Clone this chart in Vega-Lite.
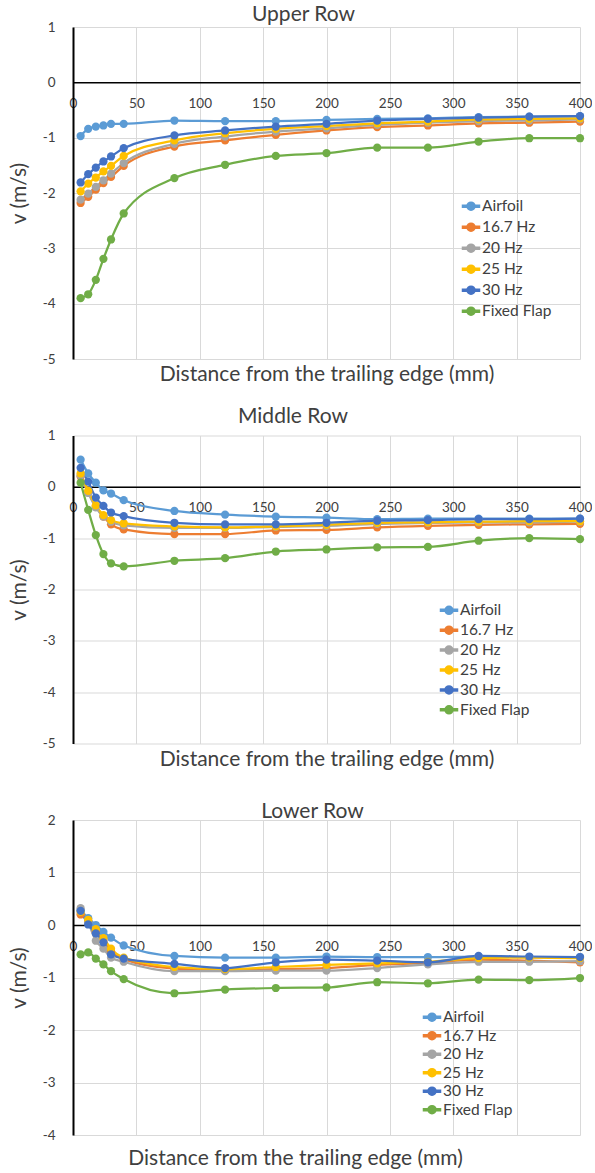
{
"$schema":"https://vega.github.io/schema/vega-lite/v6.json",
"background":"white",
"padding":{"left":8,"top":4,"right":0,"bottom":5},
"bounds":"flush",
"spacing":76.5,
"config":{
 "font":"Lato",
 "view":{"stroke":null},
 "axis":{"gridColor":"#D9D9D9","gridWidth":1,"ticks":false,"labelColor":"#404040","titleColor":"#404040","labelFontSize":13.5,"titleFontSize":21,"titleFontWeight":"normal","domainColor":"#000000","labelFont":"Lato","titleFont":"Lato","labelExpr":"'' + datum.value"},
 "legend":{"labelColor":"#404040","labelFontSize":15.5,"labelFont":"Lato"},
 "title":{"fontSize":21,"fontWeight":"normal","color":"#404040","font":"Lato"}
},
"resolve":{"scale":{"color":"independent","x":"independent","y":"independent"},"legend":{"color":"independent"}},
"datasets":{"d":[
{"row":"Upper","series":"Airfoil","x":6,"v":-0.97},{"row":"Upper","series":"Airfoil","x":12,"v":-0.84},{"row":"Upper","series":"Airfoil","x":18,"v":-0.80},{"row":"Upper","series":"Airfoil","x":24,"v":-0.78},{"row":"Upper","series":"Airfoil","x":30,"v":-0.75},{"row":"Upper","series":"Airfoil","x":40,"v":-0.75},{"row":"Upper","series":"Airfoil","x":80,"v":-0.69},{"row":"Upper","series":"Airfoil","x":120,"v":-0.70},{"row":"Upper","series":"Airfoil","x":160,"v":-0.70},{"row":"Upper","series":"Airfoil","x":200,"v":-0.68},{"row":"Upper","series":"Airfoil","x":240,"v":-0.66},{"row":"Upper","series":"Airfoil","x":280,"v":-0.65},{"row":"Upper","series":"Airfoil","x":320,"v":-0.63},{"row":"Upper","series":"Airfoil","x":360,"v":-0.62},{"row":"Upper","series":"Airfoil","x":400,"v":-0.61},
{"row":"Upper","series":"16.7 Hz","x":6,"v":-2.18},{"row":"Upper","series":"16.7 Hz","x":12,"v":-2.07},{"row":"Upper","series":"16.7 Hz","x":18,"v":-1.94},{"row":"Upper","series":"16.7 Hz","x":24,"v":-1.82},{"row":"Upper","series":"16.7 Hz","x":30,"v":-1.71},{"row":"Upper","series":"16.7 Hz","x":40,"v":-1.51},{"row":"Upper","series":"16.7 Hz","x":80,"v":-1.16},{"row":"Upper","series":"16.7 Hz","x":120,"v":-1.05},{"row":"Upper","series":"16.7 Hz","x":160,"v":-0.95},{"row":"Upper","series":"16.7 Hz","x":200,"v":-0.87},{"row":"Upper","series":"16.7 Hz","x":240,"v":-0.81},{"row":"Upper","series":"16.7 Hz","x":280,"v":-0.78},{"row":"Upper","series":"16.7 Hz","x":320,"v":-0.74},{"row":"Upper","series":"16.7 Hz","x":360,"v":-0.73},{"row":"Upper","series":"16.7 Hz","x":400,"v":-0.71},
{"row":"Upper","series":"20 Hz","x":6,"v":-2.12},{"row":"Upper","series":"20 Hz","x":12,"v":-2.01},{"row":"Upper","series":"20 Hz","x":18,"v":-1.89},{"row":"Upper","series":"20 Hz","x":24,"v":-1.77},{"row":"Upper","series":"20 Hz","x":30,"v":-1.65},{"row":"Upper","series":"20 Hz","x":40,"v":-1.46},{"row":"Upper","series":"20 Hz","x":80,"v":-1.11},{"row":"Upper","series":"20 Hz","x":120,"v":-0.98},{"row":"Upper","series":"20 Hz","x":160,"v":-0.89},{"row":"Upper","series":"20 Hz","x":200,"v":-0.83},{"row":"Upper","series":"20 Hz","x":240,"v":-0.77},{"row":"Upper","series":"20 Hz","x":280,"v":-0.73},{"row":"Upper","series":"20 Hz","x":320,"v":-0.70},{"row":"Upper","series":"20 Hz","x":360,"v":-0.69},{"row":"Upper","series":"20 Hz","x":400,"v":-0.67},
{"row":"Upper","series":"25 Hz","x":6,"v":-1.97},{"row":"Upper","series":"25 Hz","x":12,"v":-1.83},{"row":"Upper","series":"25 Hz","x":18,"v":-1.72},{"row":"Upper","series":"25 Hz","x":24,"v":-1.61},{"row":"Upper","series":"25 Hz","x":30,"v":-1.51},{"row":"Upper","series":"25 Hz","x":40,"v":-1.33},{"row":"Upper","series":"25 Hz","x":80,"v":-1.05},{"row":"Upper","series":"25 Hz","x":120,"v":-0.92},{"row":"Upper","series":"25 Hz","x":160,"v":-0.84},{"row":"Upper","series":"25 Hz","x":200,"v":-0.79},{"row":"Upper","series":"25 Hz","x":240,"v":-0.74},{"row":"Upper","series":"25 Hz","x":280,"v":-0.71},{"row":"Upper","series":"25 Hz","x":320,"v":-0.67},{"row":"Upper","series":"25 Hz","x":360,"v":-0.66},{"row":"Upper","series":"25 Hz","x":400,"v":-0.65},
{"row":"Upper","series":"30 Hz","x":6,"v":-1.81},{"row":"Upper","series":"30 Hz","x":12,"v":-1.66},{"row":"Upper","series":"30 Hz","x":18,"v":-1.54},{"row":"Upper","series":"30 Hz","x":24,"v":-1.43},{"row":"Upper","series":"30 Hz","x":30,"v":-1.34},{"row":"Upper","series":"30 Hz","x":40,"v":-1.19},{"row":"Upper","series":"30 Hz","x":80,"v":-0.96},{"row":"Upper","series":"30 Hz","x":120,"v":-0.87},{"row":"Upper","series":"30 Hz","x":160,"v":-0.80},{"row":"Upper","series":"30 Hz","x":200,"v":-0.75},{"row":"Upper","series":"30 Hz","x":240,"v":-0.69},{"row":"Upper","series":"30 Hz","x":280,"v":-0.66},{"row":"Upper","series":"30 Hz","x":320,"v":-0.64},{"row":"Upper","series":"30 Hz","x":360,"v":-0.62},{"row":"Upper","series":"30 Hz","x":400,"v":-0.61},
{"row":"Upper","series":"Fixed Flap","x":6,"v":-3.90},{"row":"Upper","series":"Fixed Flap","x":12,"v":-3.83},{"row":"Upper","series":"Fixed Flap","x":18,"v":-3.57},{"row":"Upper","series":"Fixed Flap","x":24,"v":-3.19},{"row":"Upper","series":"Fixed Flap","x":30,"v":-2.84},{"row":"Upper","series":"Fixed Flap","x":40,"v":-2.37},{"row":"Upper","series":"Fixed Flap","x":80,"v":-1.73},{"row":"Upper","series":"Fixed Flap","x":120,"v":-1.49},{"row":"Upper","series":"Fixed Flap","x":160,"v":-1.33},{"row":"Upper","series":"Fixed Flap","x":200,"v":-1.28},{"row":"Upper","series":"Fixed Flap","x":240,"v":-1.18},{"row":"Upper","series":"Fixed Flap","x":280,"v":-1.18},{"row":"Upper","series":"Fixed Flap","x":320,"v":-1.07},{"row":"Upper","series":"Fixed Flap","x":360,"v":-1.01},{"row":"Upper","series":"Fixed Flap","x":400,"v":-1.01},
{"row":"Middle","series":"Airfoil","x":6,"v":0.53},{"row":"Middle","series":"Airfoil","x":12,"v":0.26},{"row":"Middle","series":"Airfoil","x":18,"v":0.08},{"row":"Middle","series":"Airfoil","x":24,"v":-0.07},{"row":"Middle","series":"Airfoil","x":30,"v":-0.13},{"row":"Middle","series":"Airfoil","x":40,"v":-0.26},{"row":"Middle","series":"Airfoil","x":80,"v":-0.47},{"row":"Middle","series":"Airfoil","x":120,"v":-0.54},{"row":"Middle","series":"Airfoil","x":160,"v":-0.58},{"row":"Middle","series":"Airfoil","x":200,"v":-0.60},{"row":"Middle","series":"Airfoil","x":240,"v":-0.63},{"row":"Middle","series":"Airfoil","x":280,"v":-0.62},{"row":"Middle","series":"Airfoil","x":320,"v":-0.62},{"row":"Middle","series":"Airfoil","x":360,"v":-0.62},{"row":"Middle","series":"Airfoil","x":400,"v":-0.62},
{"row":"Middle","series":"16.7 Hz","x":6,"v":0.20},{"row":"Middle","series":"16.7 Hz","x":12,"v":-0.10},{"row":"Middle","series":"16.7 Hz","x":18,"v":-0.38},{"row":"Middle","series":"16.7 Hz","x":24,"v":-0.58},{"row":"Middle","series":"16.7 Hz","x":30,"v":-0.73},{"row":"Middle","series":"16.7 Hz","x":40,"v":-0.83},{"row":"Middle","series":"16.7 Hz","x":80,"v":-0.92},{"row":"Middle","series":"16.7 Hz","x":120,"v":-0.92},{"row":"Middle","series":"16.7 Hz","x":160,"v":-0.85},{"row":"Middle","series":"16.7 Hz","x":200,"v":-0.84},{"row":"Middle","series":"16.7 Hz","x":240,"v":-0.79},{"row":"Middle","series":"16.7 Hz","x":280,"v":-0.76},{"row":"Middle","series":"16.7 Hz","x":320,"v":-0.74},{"row":"Middle","series":"16.7 Hz","x":360,"v":-0.73},{"row":"Middle","series":"16.7 Hz","x":400,"v":-0.72},
{"row":"Middle","series":"20 Hz","x":6,"v":0.22},{"row":"Middle","series":"20 Hz","x":12,"v":-0.12},{"row":"Middle","series":"20 Hz","x":18,"v":-0.40},{"row":"Middle","series":"20 Hz","x":24,"v":-0.58},{"row":"Middle","series":"20 Hz","x":30,"v":-0.68},{"row":"Middle","series":"20 Hz","x":40,"v":-0.75},{"row":"Middle","series":"20 Hz","x":80,"v":-0.80},{"row":"Middle","series":"20 Hz","x":120,"v":-0.80},{"row":"Middle","series":"20 Hz","x":160,"v":-0.78},{"row":"Middle","series":"20 Hz","x":200,"v":-0.76},{"row":"Middle","series":"20 Hz","x":240,"v":-0.72},{"row":"Middle","series":"20 Hz","x":280,"v":-0.70},{"row":"Middle","series":"20 Hz","x":320,"v":-0.69},{"row":"Middle","series":"20 Hz","x":360,"v":-0.69},{"row":"Middle","series":"20 Hz","x":400,"v":-0.68},
{"row":"Middle","series":"25 Hz","x":6,"v":0.26},{"row":"Middle","series":"25 Hz","x":12,"v":-0.08},{"row":"Middle","series":"25 Hz","x":18,"v":-0.36},{"row":"Middle","series":"25 Hz","x":24,"v":-0.55},{"row":"Middle","series":"25 Hz","x":30,"v":-0.65},{"row":"Middle","series":"25 Hz","x":40,"v":-0.71},{"row":"Middle","series":"25 Hz","x":80,"v":-0.77},{"row":"Middle","series":"25 Hz","x":120,"v":-0.79},{"row":"Middle","series":"25 Hz","x":160,"v":-0.77},{"row":"Middle","series":"25 Hz","x":200,"v":-0.74},{"row":"Middle","series":"25 Hz","x":240,"v":-0.70},{"row":"Middle","series":"25 Hz","x":280,"v":-0.69},{"row":"Middle","series":"25 Hz","x":320,"v":-0.68},{"row":"Middle","series":"25 Hz","x":360,"v":-0.67},{"row":"Middle","series":"25 Hz","x":400,"v":-0.67},
{"row":"Middle","series":"30 Hz","x":6,"v":0.37},{"row":"Middle","series":"30 Hz","x":12,"v":0.10},{"row":"Middle","series":"30 Hz","x":18,"v":-0.21},{"row":"Middle","series":"30 Hz","x":24,"v":-0.37},{"row":"Middle","series":"30 Hz","x":30,"v":-0.50},{"row":"Middle","series":"30 Hz","x":40,"v":-0.57},{"row":"Middle","series":"30 Hz","x":80,"v":-0.70},{"row":"Middle","series":"30 Hz","x":120,"v":-0.73},{"row":"Middle","series":"30 Hz","x":160,"v":-0.73},{"row":"Middle","series":"30 Hz","x":200,"v":-0.70},{"row":"Middle","series":"30 Hz","x":240,"v":-0.66},{"row":"Middle","series":"30 Hz","x":280,"v":-0.65},{"row":"Middle","series":"30 Hz","x":320,"v":-0.63},{"row":"Middle","series":"30 Hz","x":360,"v":-0.63},{"row":"Middle","series":"30 Hz","x":400,"v":-0.62},
{"row":"Middle","series":"Fixed Flap","x":6,"v":0.08},{"row":"Middle","series":"Fixed Flap","x":12,"v":-0.45},{"row":"Middle","series":"Fixed Flap","x":18,"v":-0.94},{"row":"Middle","series":"Fixed Flap","x":24,"v":-1.31},{"row":"Middle","series":"Fixed Flap","x":30,"v":-1.49},{"row":"Middle","series":"Fixed Flap","x":40,"v":-1.55},{"row":"Middle","series":"Fixed Flap","x":80,"v":-1.44},{"row":"Middle","series":"Fixed Flap","x":120,"v":-1.39},{"row":"Middle","series":"Fixed Flap","x":160,"v":-1.26},{"row":"Middle","series":"Fixed Flap","x":200,"v":-1.22},{"row":"Middle","series":"Fixed Flap","x":240,"v":-1.18},{"row":"Middle","series":"Fixed Flap","x":280,"v":-1.17},{"row":"Middle","series":"Fixed Flap","x":320,"v":-1.05},{"row":"Middle","series":"Fixed Flap","x":360,"v":-1.00},{"row":"Middle","series":"Fixed Flap","x":400,"v":-1.02},
{"row":"Lower","series":"Airfoil","x":6,"v":0.28},{"row":"Lower","series":"Airfoil","x":12,"v":0.13},{"row":"Lower","series":"Airfoil","x":18,"v":0.00},{"row":"Lower","series":"Airfoil","x":24,"v":-0.13},{"row":"Lower","series":"Airfoil","x":30,"v":-0.24},{"row":"Lower","series":"Airfoil","x":40,"v":-0.39},{"row":"Lower","series":"Airfoil","x":80,"v":-0.59},{"row":"Lower","series":"Airfoil","x":120,"v":-0.62},{"row":"Lower","series":"Airfoil","x":160,"v":-0.62},{"row":"Lower","series":"Airfoil","x":200,"v":-0.60},{"row":"Lower","series":"Airfoil","x":240,"v":-0.61},{"row":"Lower","series":"Airfoil","x":280,"v":-0.61},{"row":"Lower","series":"Airfoil","x":320,"v":-0.60},{"row":"Lower","series":"Airfoil","x":360,"v":-0.61},{"row":"Lower","series":"Airfoil","x":400,"v":-0.61},
{"row":"Lower","series":"16.7 Hz","x":6,"v":0.20},{"row":"Lower","series":"16.7 Hz","x":12,"v":0.08},{"row":"Lower","series":"16.7 Hz","x":18,"v":-0.12},{"row":"Lower","series":"16.7 Hz","x":24,"v":-0.30},{"row":"Lower","series":"16.7 Hz","x":30,"v":-0.50},{"row":"Lower","series":"16.7 Hz","x":40,"v":-0.65},{"row":"Lower","series":"16.7 Hz","x":80,"v":-0.83},{"row":"Lower","series":"16.7 Hz","x":120,"v":-0.86},{"row":"Lower","series":"16.7 Hz","x":160,"v":-0.84},{"row":"Lower","series":"16.7 Hz","x":200,"v":-0.82},{"row":"Lower","series":"16.7 Hz","x":240,"v":-0.76},{"row":"Lower","series":"16.7 Hz","x":280,"v":-0.72},{"row":"Lower","series":"16.7 Hz","x":320,"v":-0.66},{"row":"Lower","series":"16.7 Hz","x":360,"v":-0.68},{"row":"Lower","series":"16.7 Hz","x":400,"v":-0.71},
{"row":"Lower","series":"20 Hz","x":6,"v":0.32},{"row":"Lower","series":"20 Hz","x":12,"v":0.05},{"row":"Lower","series":"20 Hz","x":18,"v":-0.30},{"row":"Lower","series":"20 Hz","x":24,"v":-0.45},{"row":"Lower","series":"20 Hz","x":30,"v":-0.62},{"row":"Lower","series":"20 Hz","x":40,"v":-0.70},{"row":"Lower","series":"20 Hz","x":80,"v":-0.88},{"row":"Lower","series":"20 Hz","x":120,"v":-0.88},{"row":"Lower","series":"20 Hz","x":160,"v":-0.87},{"row":"Lower","series":"20 Hz","x":200,"v":-0.87},{"row":"Lower","series":"20 Hz","x":240,"v":-0.82},{"row":"Lower","series":"20 Hz","x":280,"v":-0.75},{"row":"Lower","series":"20 Hz","x":320,"v":-0.70},{"row":"Lower","series":"20 Hz","x":360,"v":-0.70},{"row":"Lower","series":"20 Hz","x":400,"v":-0.69},
{"row":"Lower","series":"25 Hz","x":6,"v":0.25},{"row":"Lower","series":"25 Hz","x":12,"v":0.10},{"row":"Lower","series":"25 Hz","x":18,"v":-0.08},{"row":"Lower","series":"25 Hz","x":24,"v":-0.25},{"row":"Lower","series":"25 Hz","x":30,"v":-0.45},{"row":"Lower","series":"25 Hz","x":40,"v":-0.62},{"row":"Lower","series":"25 Hz","x":80,"v":-0.80},{"row":"Lower","series":"25 Hz","x":120,"v":-0.84},{"row":"Lower","series":"25 Hz","x":160,"v":-0.80},{"row":"Lower","series":"25 Hz","x":200,"v":-0.76},{"row":"Lower","series":"25 Hz","x":240,"v":-0.73},{"row":"Lower","series":"25 Hz","x":280,"v":-0.70},{"row":"Lower","series":"25 Hz","x":320,"v":-0.63},{"row":"Lower","series":"25 Hz","x":360,"v":-0.62},{"row":"Lower","series":"25 Hz","x":400,"v":-0.63},
{"row":"Lower","series":"30 Hz","x":6,"v":0.27},{"row":"Lower","series":"30 Hz","x":12,"v":0.01},{"row":"Lower","series":"30 Hz","x":18,"v":-0.16},{"row":"Lower","series":"30 Hz","x":24,"v":-0.33},{"row":"Lower","series":"30 Hz","x":30,"v":-0.56},{"row":"Lower","series":"30 Hz","x":40,"v":-0.64},{"row":"Lower","series":"30 Hz","x":80,"v":-0.74},{"row":"Lower","series":"30 Hz","x":120,"v":-0.82},{"row":"Lower","series":"30 Hz","x":160,"v":-0.71},{"row":"Lower","series":"30 Hz","x":200,"v":-0.66},{"row":"Lower","series":"30 Hz","x":240,"v":-0.68},{"row":"Lower","series":"30 Hz","x":280,"v":-0.71},{"row":"Lower","series":"30 Hz","x":320,"v":-0.59},{"row":"Lower","series":"30 Hz","x":360,"v":-0.60},{"row":"Lower","series":"30 Hz","x":400,"v":-0.61},
{"row":"Lower","series":"Fixed Flap","x":6,"v":-0.56},{"row":"Lower","series":"Fixed Flap","x":12,"v":-0.52},{"row":"Lower","series":"Fixed Flap","x":18,"v":-0.64},{"row":"Lower","series":"Fixed Flap","x":24,"v":-0.75},{"row":"Lower","series":"Fixed Flap","x":30,"v":-0.88},{"row":"Lower","series":"Fixed Flap","x":40,"v":-1.03},{"row":"Lower","series":"Fixed Flap","x":80,"v":-1.30},{"row":"Lower","series":"Fixed Flap","x":120,"v":-1.23},{"row":"Lower","series":"Fixed Flap","x":160,"v":-1.20},{"row":"Lower","series":"Fixed Flap","x":200,"v":-1.19},{"row":"Lower","series":"Fixed Flap","x":240,"v":-1.09},{"row":"Lower","series":"Fixed Flap","x":280,"v":-1.11},{"row":"Lower","series":"Fixed Flap","x":320,"v":-1.04},{"row":"Lower","series":"Fixed Flap","x":360,"v":-1.05},{"row":"Lower","series":"Fixed Flap","x":400,"v":-1.01}
]},
"vconcat":[
{
 "title":{"text":"Upper Row","frame":"group","dx":-23,"offset":-5},
 "width":507,"height":332,
 "data":{"name":"d"},
 "transform":[{"filter":"datum.row === 'Upper'"}],
 "encoding":{
  "x":{"field":"x","type":"quantitative","scale":{"domain":[0,400],"nice":false,"zero":false},"axis":{"values":[0,50,100,150,200,250,300,350,400],"title":"Distance from the trailing edge (mm)","offset":-276.67,"titleY":291.7,"titleBaseline":"middle","labelPadding":21,"labelBaseline":"middle","labelFlush":false,"labelOverlap":false,"domainWidth":1.5}},
  "y":{"field":"v","type":"quantitative","scale":{"domain":[-5,1],"nice":false},"axis":{"values":[-5,-4,-3,-2,-1,0,1],"title":"v (m/s)","labelPadding":18,"titlePadding":13,"domainWidth":2,"labelOverlap":false}},
  "color":{"field":"series","type":"nominal","scale":{"domain":["Airfoil","16.7 Hz","20 Hz","25 Hz","30 Hz","Fixed Flap"],"range":["#5B9BD5","#ED7D31","#A5A5A5","#FFC000","#4472C4","#70AD47"]},"legend":{"orient":"none","legendX":388.5,"legendY":169.7,"title":null,"symbolType":"M-1,-0.12H1V0.12H-1Z M0.47,0A0.47,0.47,0,1,1,-0.47,0A0.47,0.47,0,1,1,0.47,0Z","symbolSize":289,"labelOffset":1.5,"rowPadding":3.0}}
 },
 "layer":[
  {"mark":{"type":"line","interpolate":"monotone","strokeWidth":2.25}},
  {"mark":{"type":"point","filled":true,"size":68,"opacity":1}}
 ]
},
{
 "title":{"text":"Middle Row","frame":"group","dx":-33.5,"offset":2},
 "width":507,"height":308,
 "data":{"name":"d"},
 "transform":[{"filter":"datum.row === 'Middle'"}],
 "encoding":{
  "x":{"field":"x","type":"quantitative","scale":{"domain":[0,400],"nice":false,"zero":false},"axis":{"values":[0,50,100,150,200,250,300,350,400],"title":"Distance from the trailing edge (mm)","offset":-256.67,"titleY":272.2,"titleBaseline":"middle","labelPadding":21,"labelBaseline":"middle","labelFlush":false,"labelOverlap":false,"domainWidth":1.5}},
  "y":{"field":"v","type":"quantitative","scale":{"domain":[-5,1],"nice":false},"axis":{"values":[-5,-4,-3,-2,-1,0,1],"title":"v (m/s)","labelPadding":18,"titlePadding":13,"domainWidth":2,"labelOverlap":false}},
  "color":{"field":"series","type":"nominal","scale":{"domain":["Airfoil","16.7 Hz","20 Hz","25 Hz","30 Hz","Fixed Flap"],"range":["#5B9BD5","#ED7D31","#A5A5A5","#FFC000","#4472C4","#70AD47"]},"legend":{"orient":"none","legendX":366.5,"legendY":165.3,"title":null,"symbolType":"M-1,-0.12H1V0.12H-1Z M0.47,0A0.47,0.47,0,1,1,-0.47,0A0.47,0.47,0,1,1,0.47,0Z","symbolSize":289,"labelOffset":1.5,"rowPadding":1.9}}
 },
 "layer":[
  {"mark":{"type":"line","interpolate":"monotone","strokeWidth":2.25}},
  {"mark":{"type":"point","filled":true,"size":68,"opacity":1}}
 ]
},
{
 "title":{"text":"Lower Row","frame":"group","dx":-14,"offset":-9},
 "width":507,"height":315,
 "data":{"name":"d"},
 "transform":[{"filter":"datum.row === 'Lower'"}],
 "encoding":{
  "x":{"field":"x","type":"quantitative","scale":{"domain":[0,400],"nice":false,"zero":false},"axis":{"values":[0,50,100,150,200,250,300,350,400],"title":"Distance from the trailing edge (mm)","offset":-210,"titleY":233.5,"titleX":222,"titleBaseline":"middle","titleAlign":"center","labelPadding":21,"labelBaseline":"middle","labelFlush":false,"labelOverlap":false,"domainWidth":1.5}},
  "y":{"field":"v","type":"quantitative","scale":{"domain":[-4,2],"nice":false},"axis":{"values":[-4,-3,-2,-1,0,1,2],"title":"v (m/s)","labelPadding":18,"titlePadding":13,"domainWidth":2,"labelOverlap":false}},
  "color":{"field":"series","type":"nominal","scale":{"domain":["Airfoil","16.7 Hz","20 Hz","25 Hz","30 Hz","Fixed Flap"],"range":["#5B9BD5","#ED7D31","#A5A5A5","#FFC000","#4472C4","#70AD47"]},"legend":{"orient":"none","legendX":349.5,"legendY":187.7,"title":null,"symbolType":"M-1,-0.12H1V0.12H-1Z M0.47,0A0.47,0.47,0,1,1,-0.47,0A0.47,0.47,0,1,1,0.47,0Z","symbolSize":289,"labelOffset":1.5,"rowPadding":0.5}}
 },
 "layer":[
  {"mark":{"type":"line","interpolate":"monotone","strokeWidth":2.25}},
  {"mark":{"type":"point","filled":true,"size":68,"opacity":1}}
 ]
}
]
}
